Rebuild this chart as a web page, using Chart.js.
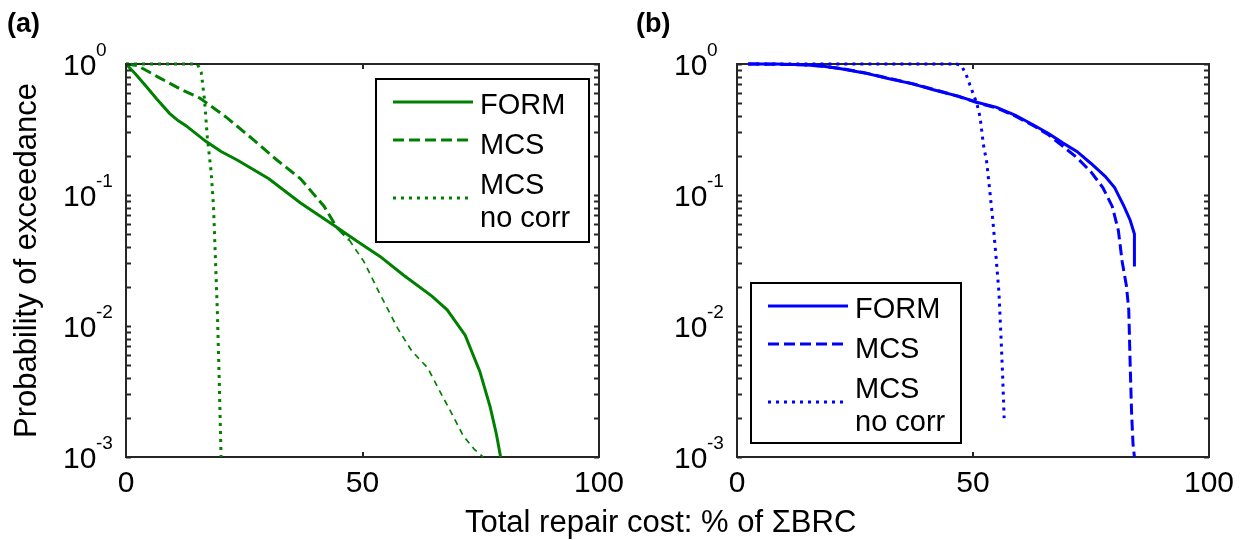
<!DOCTYPE html>
<html>
<head>
<meta charset="utf-8">
<script src="https://cdn.jsdelivr.net/npm/chart.js@4.4.1/dist/chart.umd.min.js"></script>
<style>
  html, body { margin: 0; padding: 0; background: #fff; }
  #wrap { position: relative; width: 1247px; height: 540px; overflow: hidden; background: #fff; }
  #wrap canvas { position: absolute; left: 0; top: 0; }
</style>
</head>
<body>
<div id="wrap">
  <canvas id="panelA" width="1247" height="540"></canvas>
  <canvas id="panelB" width="1247" height="540"></canvas>
</div>
<script>
// Total repair cost (% of ΣBRC) vs probability of exceedance

// Panel (a)
const formA_x = [0, 2, 4.2, 6.5, 9.2, 11, 12.6, 16.8, 20.1, 23.5, 30.2, 36.9, 44.0, 48.7, 53.7, 58.7, 64.6, 67.9, 71.7, 74.8, 77.0, 78.3, 79.2];
const formA_p = [1, 0.84, 0.68, 0.54, 0.42, 0.37, 0.34, 0.258, 0.215, 0.185, 0.133, 0.087, 0.0586, 0.0447, 0.034, 0.0244, 0.017, 0.0133, 0.0085, 0.0045, 0.0024, 0.0015, 0.001];

const mcsA_x = [0, 2.5, 7.2, 12.0, 15.6, 21.3, 26.9, 31.9, 36.9, 41.9, 44.5, 47.2, 50.3, 53.7, 57.5, 60.4, 63.8, 66.3, 68.8, 71.3, 73.6, 75.5];
const mcsA_p = [1, 0.97, 0.78, 0.63, 0.55, 0.39, 0.265, 0.185, 0.133, 0.0818, 0.0569, 0.0453, 0.031, 0.0175, 0.0095, 0.00646, 0.00478, 0.0032, 0.00217, 0.00145, 0.00115, 0.001];

const noCorrA_x = [0, 15.1, 15.9, 16.6, 17.2, 18.0, 18.5, 18.9, 19.3, 19.7, 20.1];
const noCorrA_p = [1, 1, 0.865, 0.533, 0.274, 0.15, 0.0818, 0.0329, 0.0133, 0.004, 0.001];

// Panel (b)
const formB_x = [2.4, 8, 14, 18, 22, 27, 32, 37, 42, 47, 51, 55, 59, 63, 66, 69, 72, 75, 78, 80, 82, 83.3, 84.2, 84.2];
const formB_p = [1, 1, 0.988, 0.964, 0.919, 0.855, 0.776, 0.708, 0.631, 0.566, 0.508, 0.467, 0.406, 0.339, 0.295, 0.25, 0.215, 0.174, 0.139, 0.114, 0.0818, 0.0642, 0.0504, 0.0284];

const mcsB_x = [2.4, 8, 14, 18, 22, 27, 32, 37, 42, 47, 51, 55, 59, 63, 66, 69, 72, 75, 77.5, 79.5, 80.8, 81.6, 82.5, 83.0, 83.3, 83.6, 83.9, 84.2];
const mcsB_p = [1, 0.995, 0.985, 0.96, 0.925, 0.858, 0.78, 0.71, 0.635, 0.565, 0.505, 0.462, 0.4, 0.335, 0.288, 0.236, 0.193, 0.15, 0.114, 0.0818, 0.0535, 0.0311, 0.0203, 0.0133, 0.00506, 0.00217, 0.00126, 0.001];

const noCorrB_x = [2.4, 46.5, 47.5, 48.5, 49.7, 50.8, 51.5, 52.2, 52.9, 53.6, 54.2, 54.9, 55.5, 56.0, 56.3, 56.6];
const noCorrB_p = [1, 1, 0.976, 0.839, 0.639, 0.502, 0.394, 0.243, 0.179, 0.104, 0.0642, 0.0331, 0.018, 0.00728, 0.004, 0.00198];

// Axis ticks and labels
const xTicks = [0, 50, 100];
const yTicks = [1e-3, 1e-2, 1e-1, 1];
const seriesNames = [['FORM'], ['MCS'], ['MCS', 'no corr']];
const xTitle = 'Total repair cost: % of \u03A3BRC';
const yTitle = 'Probability of exceedance';

const FONT = '"Liberation Sans", Arial, Helvetica, sans-serif';
const AXIS_COLOR = '#262626';
const TEXT_COLOR = '#000';

function points(xs, ps) {
  return xs.map((x, i) => ({ x: x, y: ps[i] }));
}

// MATLAB-like axes: boxed frame, inward ticks on all sides, 10^n labels, boxed legend
const axesFrame = {
  id: 'axesFrame',
  beforeDatasetsDraw(chart) {
    const { ctx, chartArea: a } = chart;
    ctx.save();
    ctx.strokeStyle = AXIS_COLOR;
    ctx.lineWidth = 2;
    ctx.strokeRect(a.left, a.top, a.right - a.left, a.bottom - a.top);
    ctx.restore();
  },
  afterDatasetsDraw(chart, args, opts) {
    const { ctx, chartArea: a } = chart;
    const xs = chart.scales.x, ys = chart.scales.y;
    const tickLen = 5;
    ctx.save();
    ctx.strokeStyle = AXIS_COLOR;
    ctx.lineWidth = 2;
    ctx.beginPath();
    // x ticks, bottom and top
    xTicks.forEach(v => {
      const px = Math.round(xs.getPixelForValue(v));
      ctx.moveTo(px, a.bottom); ctx.lineTo(px, a.bottom - tickLen);
      ctx.moveTo(px, a.top); ctx.lineTo(px, a.top + tickLen);
    });
    // y ticks (decades and minor 2..9), left and right
    const lo = Math.round(Math.log10(yTicks[0]));
    const hi = Math.round(Math.log10(yTicks[yTicks.length - 1]));
    for (let e = lo; e <= hi; e++) {
      for (let m = 1; m <= 9; m++) {
        const v = m * Math.pow(10, e);
        if (v > ys.max * 1.0001) break;
        const py = Math.round(ys.getPixelForValue(v)) + 0.5;
        ctx.moveTo(a.left, py); ctx.lineTo(a.left + tickLen, py);
        ctx.moveTo(a.right, py); ctx.lineTo(a.right - tickLen, py);
      }
    }
    ctx.stroke();

    // tick labels
    ctx.fillStyle = TEXT_COLOR;
    ctx.textBaseline = 'alphabetic';
    ctx.textAlign = 'center';
    ctx.font = '30px ' + FONT;
    xTicks.forEach(v => {
      ctx.fillText(String(v), xs.getPixelForValue(v), a.bottom + 35);
    });
    yTicks.forEach(v => {
      const py = ys.getPixelForValue(v);
      const e = Math.round(Math.log10(v));
      ctx.textAlign = 'left';
      ctx.font = '30px ' + FONT;
      ctx.fillText('10', a.left - 63, py + 11);
      ctx.font = '19px ' + FONT;
      ctx.fillText(String(e), a.left - 30, py - 8);
    });

    // panel tag
    ctx.font = 'bold 27px ' + FONT;
    ctx.textAlign = 'left';
    ctx.fillText(opts.tag, opts.tagX, 32);

    // axis titles
    if (opts.yTitle) {
      ctx.save();
      ctx.font = '31px ' + FONT;
      ctx.textAlign = 'center';
      ctx.translate(36, (a.top + a.bottom) / 2);
      ctx.rotate(-Math.PI / 2);
      ctx.fillText(opts.yTitle, 0, 0);
      ctx.restore();
    }
    if (opts.xTitle) {
      ctx.font = '31px ' + FONT;
      ctx.textAlign = 'left';
      ctx.fillText(opts.xTitle, 465, 532);
    }

    // legend
    const L = opts.legend;
    const bx = a.left + L.dx, by = a.top + L.dy;
    ctx.fillStyle = '#fff';
    ctx.fillRect(bx, by, L.w, L.h);
    ctx.strokeStyle = '#000';
    ctx.lineWidth = 2;
    ctx.strokeRect(bx, by, L.w, L.h);
    const lineY = [23, 61, 119];
    const textY = [[35], [75], [115, 148]];
    chart.data.datasets.forEach((ds, i) => {
      ctx.save();
      ctx.strokeStyle = ds.borderColor;
      ctx.lineWidth = ds.borderWidth;
      ctx.setLineDash(ds.borderDash || []);
      ctx.beginPath();
      ctx.moveTo(bx + 17, by + lineY[i]);
      ctx.lineTo(bx + 97, by + lineY[i]);
      ctx.stroke();
      ctx.restore();
      ctx.fillStyle = TEXT_COLOR;
      ctx.font = '29px ' + FONT;
      ctx.textAlign = 'left';
      seriesNames[i].forEach((t, k) => ctx.fillText(t, bx + 104, by + textY[i][k]));
    });
    ctx.restore();
  }
};

function makePanel(canvasId, color, series, padding, frameOpts, thinTail) {
  const dashes = [[], [11, 5], [3, 5]];
  return new Chart(document.getElementById(canvasId), {
    type: 'line',
    data: {
      datasets: series.map((s, i) => {
        const ds = {
          label: seriesNames[i].join(' '),
          data: points(s[0], s[1]),
          borderColor: color,
          borderWidth: 3,
          borderDash: dashes[i],
          borderCapStyle: 'butt',
          pointRadius: 0,
          fill: false,
          tension: 0,
          clip: false
        };
        // the MCS curve is drawn finer along its low-probability tail
        if (i === 1 && thinTail) {
          ds.segment = {
            borderWidth: c => (c.p0.parsed.y < thinTail ? 1.7 : undefined),
            borderDash: c => (c.p0.parsed.y < thinTail ? [6, 5] : undefined)
          };
        }
        return ds;
      })
    },
    options: {
      responsive: false,
      animation: false,
      events: [],
      layout: { padding: padding },
      scales: {
        x: { type: 'linear', min: 0, max: 100, display: false },
        y: { type: 'logarithmic', min: 0.001, max: 1, display: false }
      },
      plugins: {
        legend: { display: false },
        tooltip: { enabled: false },
        axesFrame: frameOpts
      }
    },
    plugins: [axesFrame]
  });
}

makePanel('panelA', '#008000',
  [[formA_x, formA_p], [mcsA_x, mcsA_p], [noCorrA_x, noCorrA_p]],
  { left: 126, right: 1247 - 599, top: 64, bottom: 540 - 457 },
  { tag: '(a)', tagX: 7, yTitle: yTitle, xTitle: xTitle,
    legend: { dx: 250, dy: 15, w: 213, h: 163 } },
  0.05);

makePanel('panelB', '#0000ff',
  [[formB_x, formB_p], [mcsB_x, mcsB_p], [noCorrB_x, noCorrB_p]],
  { left: 737, right: 1247 - 1209, top: 64, bottom: 540 - 457 },
  { tag: '(b)', tagX: 636,
    legend: { dx: 14, dy: 219, w: 210, h: 160 } },
  0);
</script>
</body>
</html>
